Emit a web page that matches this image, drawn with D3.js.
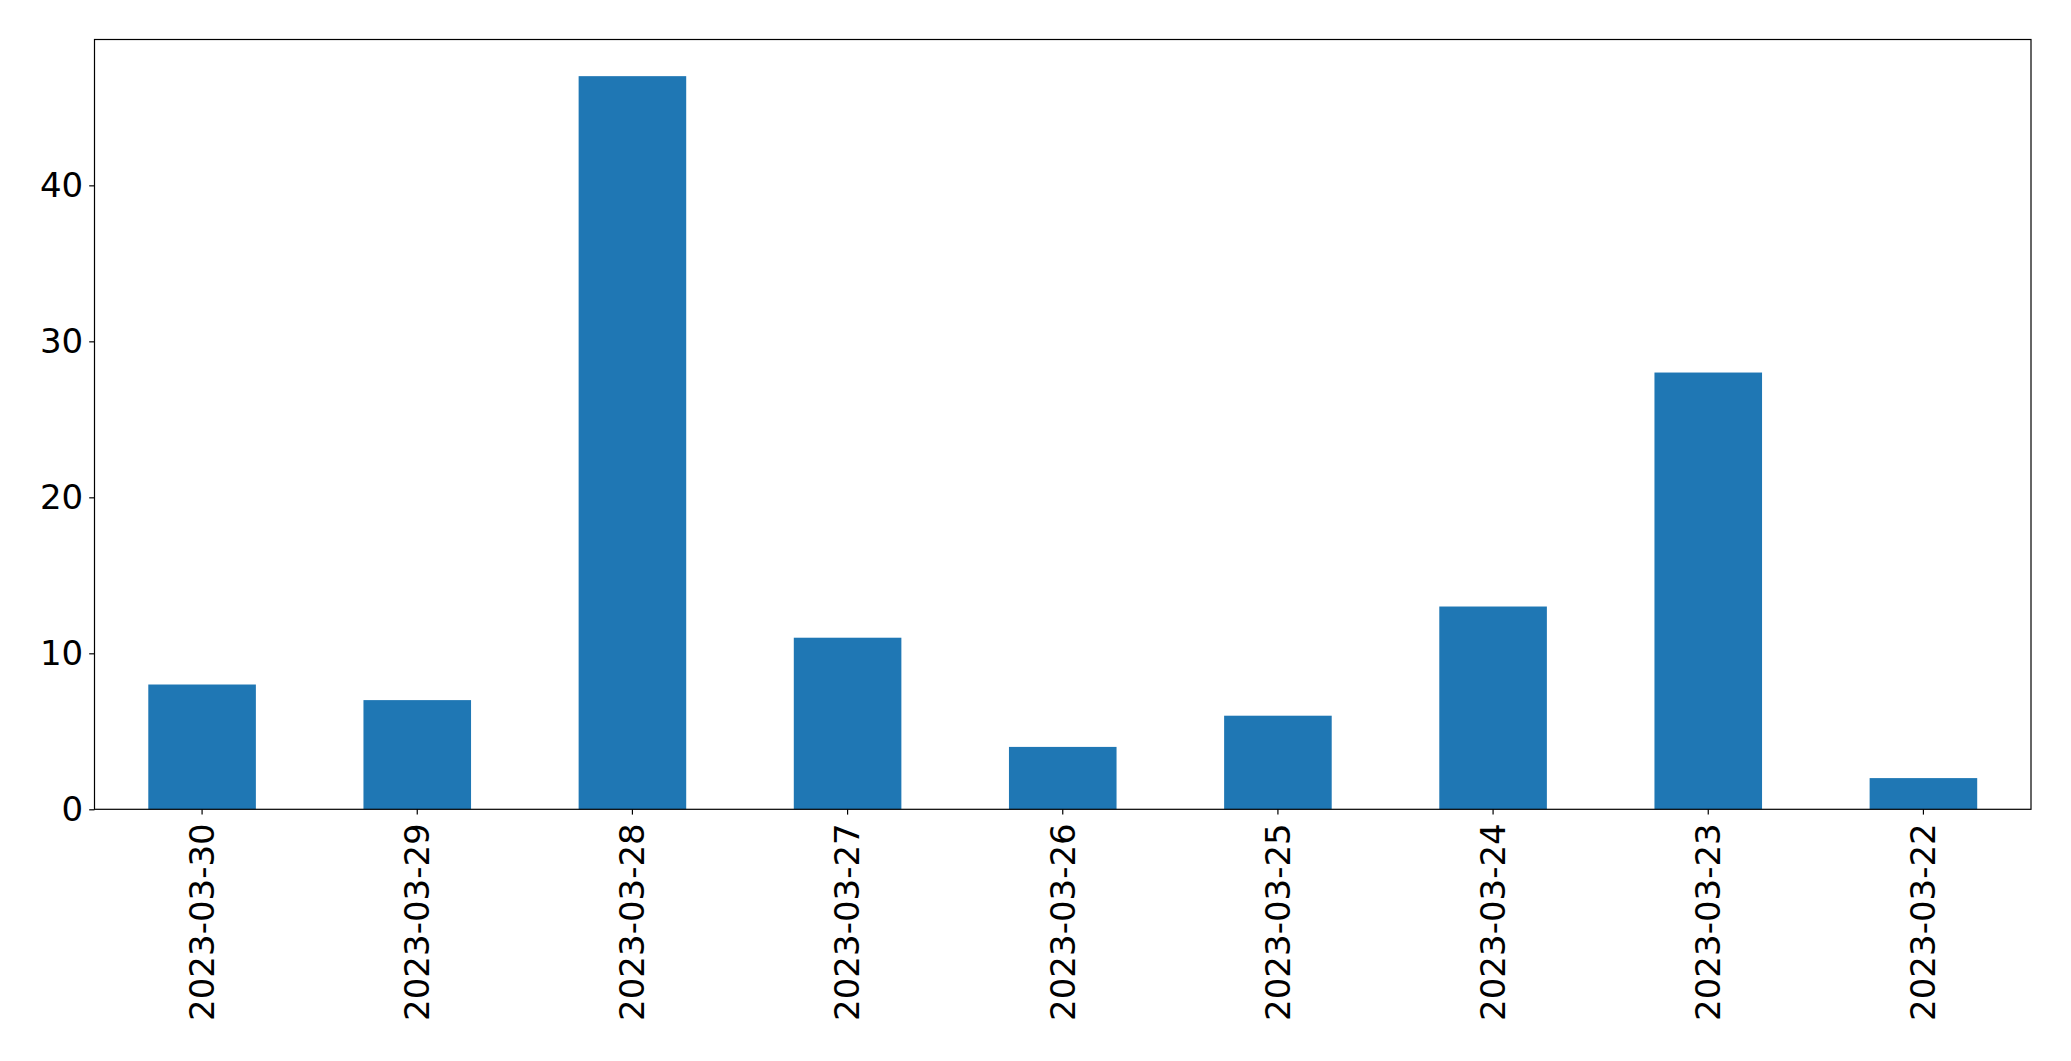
<!DOCTYPE html>
<html>
<head>
<meta charset="utf-8">
<script src="https://cdn.jsdelivr.net/npm/d3@7"></script>
<style>
  html, body { margin: 0; padding: 0; background: #fff; }
  svg { display: block; }
  text { font-family: "DejaVu Sans", sans-serif; }
</style>
</head>
<body>
<svg id="chart" width="2071" height="1061"></svg>
<script>
const categories = ["2023-03-30","2023-03-29","2023-03-28","2023-03-27","2023-03-26","2023-03-25","2023-03-24","2023-03-23","2023-03-22"];
const values = [8, 7, 47, 11, 4, 6, 13, 28, 2];
const yTicks = [0, 10, 20, 30, 40];

const W = 2071, H = 1061;
const m = { left: 94.5, right: 2031, top: 39.5, bottom: 809.3 };
const svg = d3.select("#chart");

const x = d3.scaleBand().domain(categories).range([m.left, m.right])
  .paddingInner(0.5).paddingOuter(0.25);
const y = d3.scaleLinear().domain([0, d3.max(values) * 1.05]).range([m.bottom, m.top]);

svg.append("g").selectAll("rect").data(categories).join("rect")
  .attr("x", d => x(d))
  .attr("width", x.bandwidth())
  .attr("y", (d, i) => y(values[i]))
  .attr("height", (d, i) => y(0) - y(values[i]))
  .attr("fill", "#1f77b4");

const fs = 34;
const yAxis = svg.append("g").attr("transform", `translate(${m.left},0)`)
  .call(d3.axisLeft(y).tickValues(yTicks).tickSize(5.3).tickPadding(6).tickFormat(d3.format("d")));
yAxis.select(".domain").remove();
yAxis.selectAll("text").attr("font-size", fs).attr("fill", "#000").style("font-family", "'DejaVu Sans', sans-serif");
yAxis.selectAll("line").attr("stroke", "#000").attr("stroke-width", 1.2);

const xAxis = svg.append("g").attr("transform", `translate(0,${m.bottom})`)
  .call(d3.axisBottom(x).tickSize(5.3).tickPadding(5.3));
xAxis.select(".domain").remove();
xAxis.selectAll("line").attr("stroke", "#000").attr("stroke-width", 1.2);
xAxis.selectAll("text")
  .attr("font-size", fs).attr("fill", "#000").style("font-family", "'DejaVu Sans', sans-serif")
  .attr("transform", "rotate(-90)")
  .attr("text-anchor", "end")
  .attr("x", -14)
  .attr("y", 0)
  .attr("dy", "0.35em");

svg.append("rect")
  .attr("x", m.left).attr("y", m.top)
  .attr("width", m.right - m.left).attr("height", m.bottom - m.top)
  .attr("fill", "none").attr("stroke", "#000").attr("stroke-width", 1.2);
</script>
</body>
</html>
